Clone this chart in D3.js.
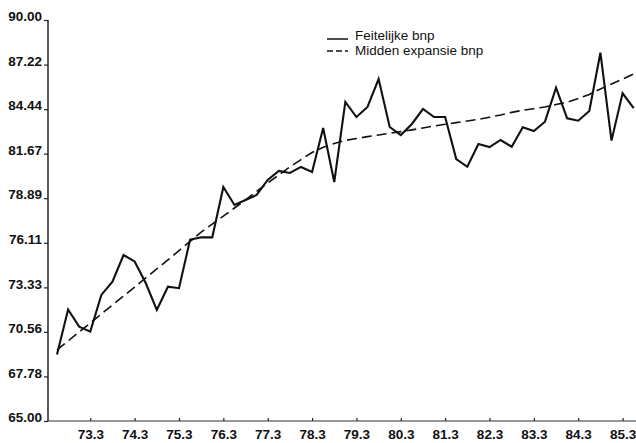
<!DOCTYPE html>
<html>
<head>
<meta charset="utf-8">
<script src="https://cdn.jsdelivr.net/npm/d3@7"></script>
<style>
  html, body { margin: 0; padding: 0; background: #fff; }
  svg { display: block; }
  text { font-family: "Liberation Sans", Arial, Helvetica, sans-serif; fill: #111; }
</style>
</head>
<body>
<svg id="chart" width="636" height="443"></svg>
<script>
// Quarters from 72.4 through 85.4
const quarters = [];
for (let y = 72; y <= 85; y++) {
  for (let q = 1; q <= 4; q++) {
    if (y === 72 && q < 4) continue;
    quarters.push(y + "." + q);
  }
}

// Actual GNP per quarter
const feitelijke = [
  69.15, 71.95, 70.88, 70.57, 72.86, 73.68, 75.35, 74.95, 73.60, 71.92,
  73.37, 73.28, 76.30, 76.45, 76.45, 79.59, 78.47, 78.78, 79.09, 80.03,
  80.59, 80.46, 80.84, 80.52, 83.27, 79.90, 84.89, 83.95, 84.58, 86.32,
  83.33, 82.83, 83.52, 84.45, 83.95, 83.95, 81.33, 80.85, 82.27, 82.08,
  82.52, 82.10, 83.31, 83.08, 83.66, 85.78, 83.87, 83.72, 84.33, 87.96,
  82.48, 85.43, 84.50
];

// Mid-expansion trend of GNP per quarter
const midden = [
  69.43, 69.99, 70.55, 71.11, 71.67, 72.23, 72.79, 73.35, 73.92, 74.48,
  75.04, 75.62, 76.20, 76.78, 77.28, 77.77, 78.28, 78.78, 79.32, 79.84,
  80.34, 80.84, 81.30, 81.74, 82.06, 82.30, 82.49, 82.61, 82.73, 82.83,
  82.94, 83.04, 83.15, 83.27, 83.39, 83.50, 83.60, 83.70, 83.81, 83.94,
  84.08, 84.24, 84.37, 84.47, 84.58, 84.73, 84.88, 85.10, 85.36, 85.70,
  86.01, 86.32, 86.63
];

const yTicks = [65.00, 67.78, 70.56, 73.33, 76.11, 78.89, 81.67, 84.44, 87.22, 90.00];
const xTickLabels = ["73.3", "74.3", "75.3", "76.3", "77.3", "78.3", "79.3",
                     "80.3", "81.3", "82.3", "83.3", "84.3", "85.3"];

const legendLabels = ["Feitelijke bnp", "Midden expansie bnp"];

const svg = d3.select("#chart");
const axisLeftX = 48, axisRightX = 636, axisTop = 20, axisBottom = 421;

const x = d3.scalePoint()
  .domain(quarters)
  .range([57, 57 + 11.09 * (quarters.length - 1)]);

const y = d3.scaleLinear()
  .domain([65, 90])
  .range([axisBottom, axisTop]);

// Y axis
const yAxis = svg.append("g")
  .attr("transform", `translate(${axisLeftX},0)`)
  .call(d3.axisLeft(y).tickValues(yTicks).tickFormat(d3.format(".2f"))
        .tickSize(4).tickPadding(2));
yAxis.select(".domain").attr("stroke", "#222").attr("stroke-width", 1.5)
  .attr("d", `M0,${axisTop}V${axisBottom}`);
yAxis.selectAll(".tick line").attr("stroke", "#222").attr("stroke-width", 1.2);
yAxis.selectAll(".tick text")
  .attr("dy", "0.05em")
  .style("font-size", "13.5px")
  .style("font-weight", "bold");

// X axis
const xAxis = svg.append("g")
  .attr("transform", `translate(0,${axisBottom})`)
  .call(d3.axisBottom(x).tickValues(xTickLabels).tickSize(-3).tickPadding(8));
xAxis.select(".domain").attr("stroke", "#333").attr("stroke-width", 1.2)
  .attr("d", `M${axisLeftX},0H${axisRightX}`);
xAxis.selectAll(".tick line").attr("stroke", "#222").attr("stroke-width", 1.2);
xAxis.selectAll(".tick text")
  .style("font-size", "13.5px")
  .style("font-weight", "bold");

// Series
const line = d3.line()
  .x((d, i) => x(quarters[i]))
  .y(d => y(d));

svg.append("path")
  .datum(midden)
  .attr("fill", "none")
  .attr("stroke", "#111")
  .attr("stroke-width", 1.6)
  .attr("stroke-dasharray", "10,5")
  .attr("d", line);

svg.append("path")
  .datum(feitelijke)
  .attr("fill", "none")
  .attr("stroke", "#111")
  .attr("stroke-width", 2.1)
  .attr("stroke-linejoin", "miter")
  .attr("d", line);

// Legend
const legend = svg.append("g").attr("transform", "translate(327,0)");
legend.append("line")
  .attr("x1", 0).attr("x2", 21).attr("y1", 39).attr("y2", 39)
  .attr("stroke", "#111").attr("stroke-width", 1.5);
legend.append("line")
  .attr("x1", 0).attr("x2", 21).attr("y1", 51).attr("y2", 51)
  .attr("stroke", "#111").attr("stroke-width", 1.5)
  .attr("stroke-dasharray", "6,3");
legend.append("text")
  .attr("x", 28).attr("y", 40)
  .style("font-size", "13.5px")
  .text(legendLabels[0]);
legend.append("text")
  .attr("x", 28).attr("y", 55)
  .style("font-size", "13.5px")
  .text(legendLabels[1]);
</script>
</body>
</html>
